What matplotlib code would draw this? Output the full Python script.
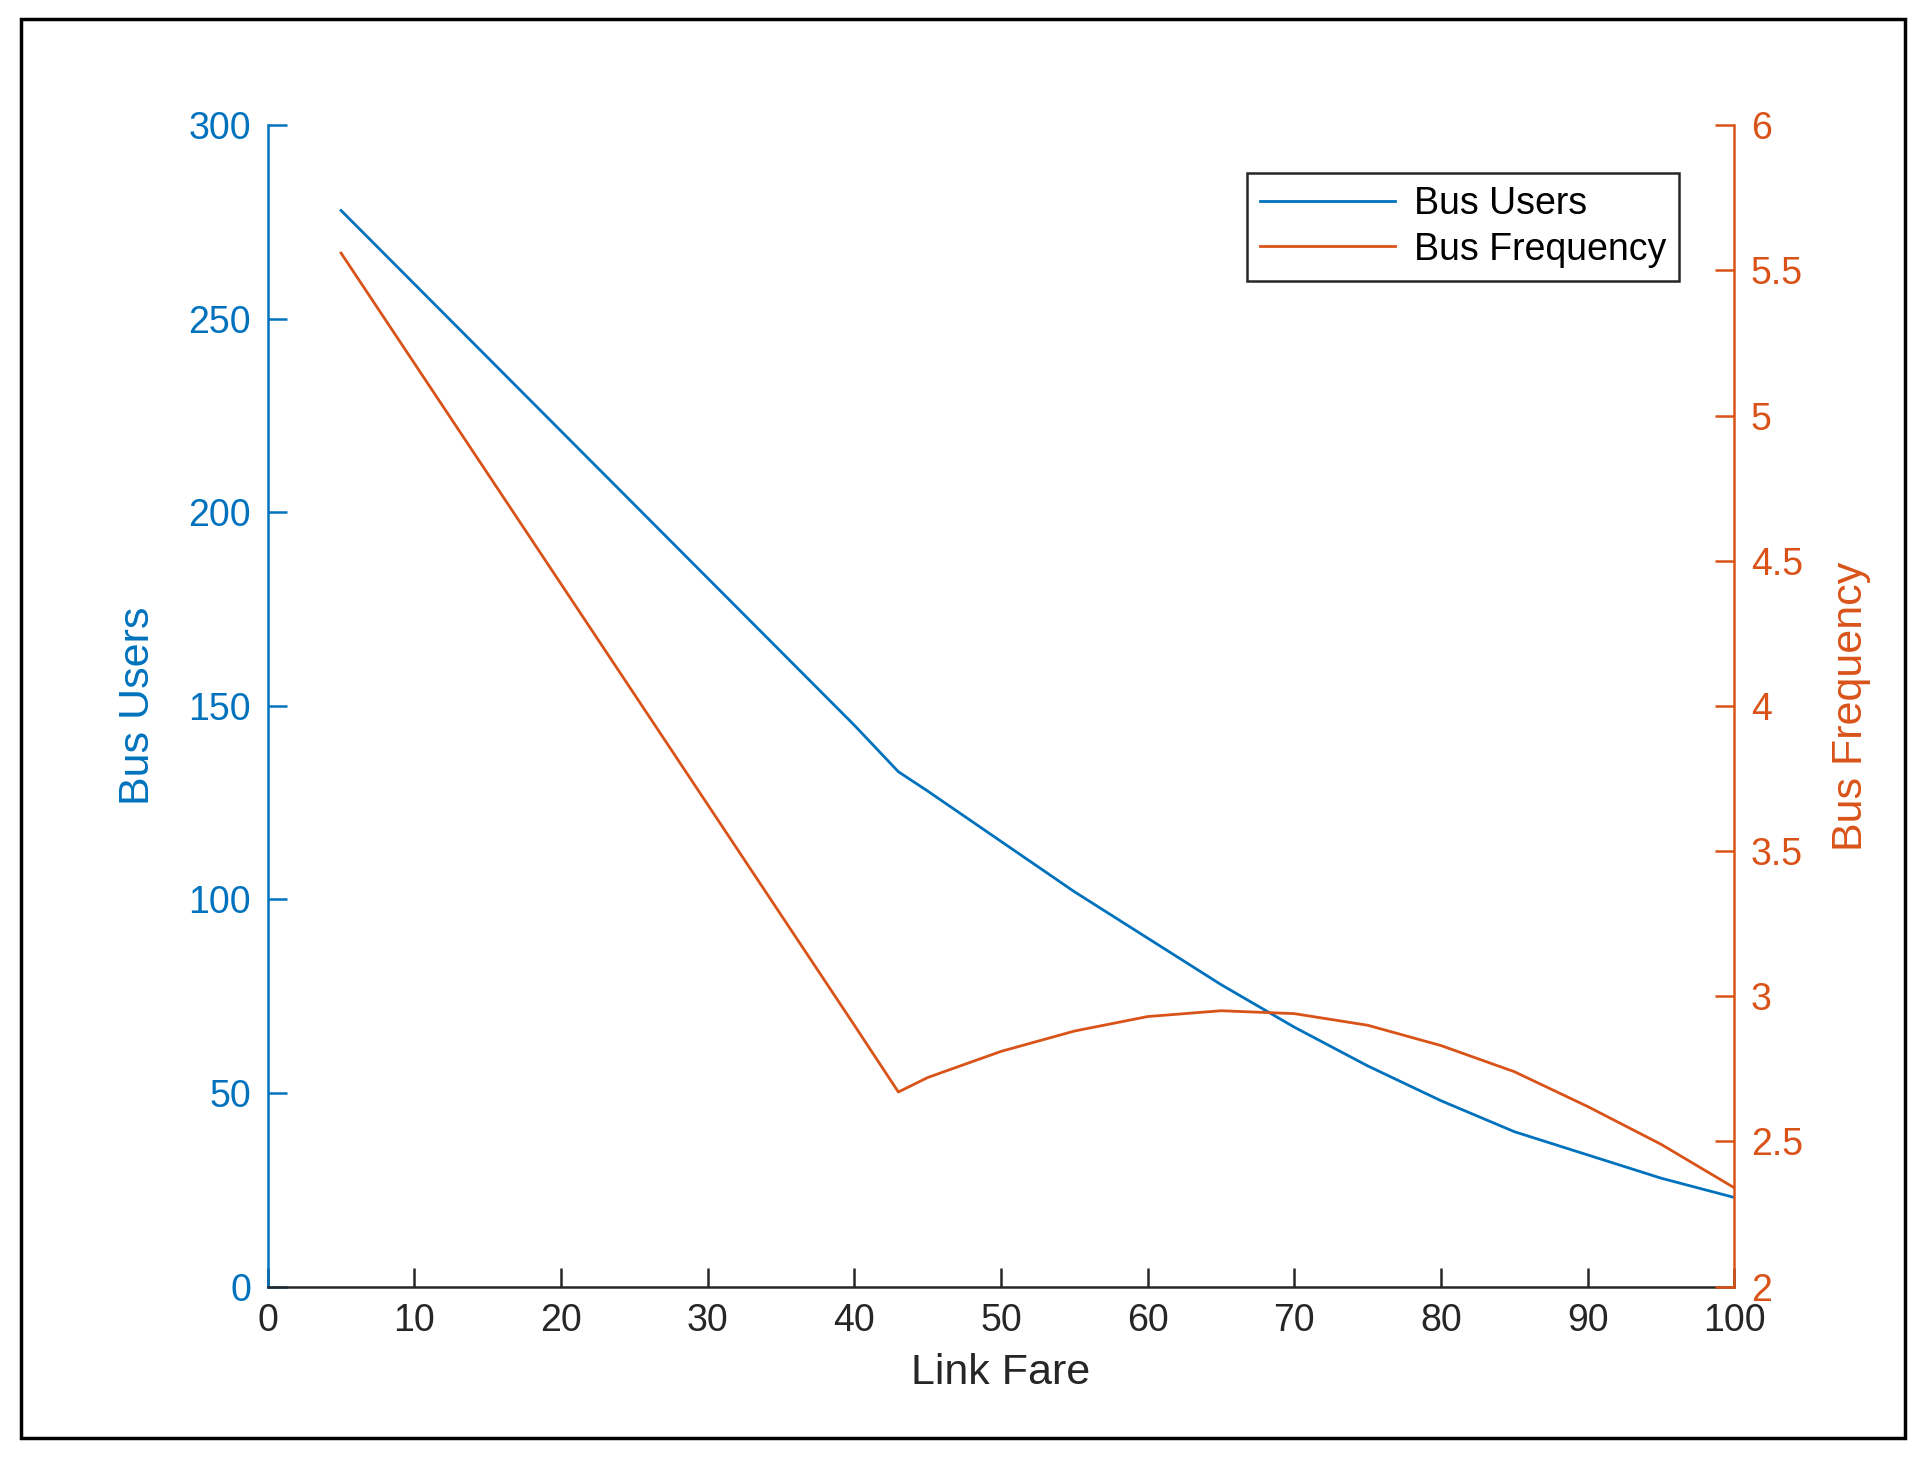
import matplotlib
matplotlib.use("Agg")
import matplotlib.pyplot as plt
from matplotlib.patches import Rectangle

plt.rcParams["font.family"] = ["Liberation Sans", "DejaVu Sans"]

BLUE = "#0072BD"
ORANGE = "#D95319"

# ----------------------------
# Data
# ----------------------------
fare = [5, 10, 20, 30, 40, 43, 45, 50, 55, 60, 65, 70, 75, 80, 85, 90, 95, 100]
bus_users = [278, 259, 221, 183, 145, 133, 128, 115, 102, 90, 78, 67, 57, 48, 40, 34, 28, 23]
bus_freq = [5.56, 5.18, 4.42, 3.66, 2.9, 2.67, 2.72, 2.81, 2.88, 2.93, 2.95, 2.94, 2.90,
            2.83, 2.74, 2.62, 2.49, 2.34]

fig = plt.figure(figsize=(19.26, 14.57), dpi=100)
ax = fig.add_axes([0.139, 0.117, 0.7615, 0.797])
ax2 = ax.twinx()

l1, = ax.plot(fare, bus_users, color=BLUE, lw=2, label="Bus Users")
l2, = ax2.plot(fare, bus_freq, color=ORANGE, lw=2, label="Bus Frequency")

ax.set_xlim(0, 100)
ax.set_ylim(0, 300)
ax2.set_ylim(2, 6)
ax.set_xticks(range(0, 101, 10))
ax.set_yticks(range(0, 301, 50))
ax2.set_yticks([2, 2.5, 3, 3.5, 4, 4.5, 5, 5.5, 6])
ax2.set_yticklabels(["2", "2.5", "3", "3.5", "4", "4.5", "5", "5.5", "6"])

for a in (ax, ax2):
    a.spines["top"].set_visible(False)
ax.spines["right"].set_visible(False)
ax2.spines["left"].set_visible(False)
ax2.spines["bottom"].set_visible(False)
ax.spines["left"].set_color(BLUE)
ax2.spines["right"].set_color(ORANGE)
ax.spines["bottom"].set_color("#262626")
for s in ax.spines.values():
    s.set_linewidth(1.8)
ax2.spines["right"].set_linewidth(1.8)

ax.tick_params(axis="y", colors=BLUE, labelsize=27, direction="in", length=14, width=1.8, pad=12)
ax.tick_params(axis="x", colors="#262626", labelsize=27, direction="in", length=14, width=1.8, pad=12)
ax2.tick_params(axis="y", colors=ORANGE, labelsize=27, direction="in", length=14, width=1.8, pad=12)

ax.set_xlabel("Link Fare", fontsize=31, color="#262626", labelpad=10)
ax.set_ylabel("Bus Users", fontsize=31, color=BLUE, labelpad=22)
ax2.set_ylabel("Bus Frequency", fontsize=31, color=ORANGE, labelpad=20)

leg = ax.legend(handles=[l1, l2], loc="upper right", bbox_to_anchor=(0.975, 0.975),
                fontsize=27, fancybox=False, framealpha=1, edgecolor="#262626",
                handlelength=3.6, borderpad=0.35, labelspacing=0.25, handletextpad=0.5)
leg.get_frame().set_linewidth(1.8)

# outer border
fig.patches.append(Rectangle((0.011, 0.013), 0.978, 0.974, transform=fig.transFigure,
                             fill=False, edgecolor="black", lw=2.5))

fig.savefig("out.png", dpi=100)
